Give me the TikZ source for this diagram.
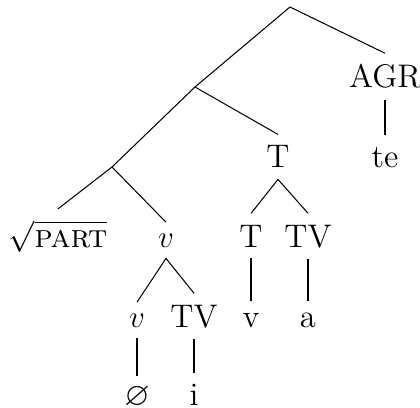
\documentclass[tikz,border=0pt]{standalone}
\usepackage{amssymb}
\usepackage{fontspec}
\begin{document}
\begin{tikzpicture}[>=latex,line join=bevel,lbl/.style={draw=none,anchor=base,inner ysep=4.2pt,font=\fontsize{12.6pt}{15pt}\selectfont}]
%%
\useasboundingbox (0bp,0bp) rectangle (161.28bp,156.67bp);
\coordinate (node_0) at (111.36bp,153.98bp);
  \coordinate (node_1) at (74.88bp,123.26bp);
  \coordinate (node_2) at (43.01bp,92.54bp);
  \node (node_3) at (147.84bp,122.88bp) [lbl] {AGR};
  \node (node_4) at (147.84bp,92.54bp) [lbl] {te};
  \node (node_5) at (106.75bp,92.16bp) [lbl] {T};
  \node (node_6) at (22.27bp,61.82bp) [lbl] {$\sqrt{\textsc{part}}$};
  \node (node_7) at (63.74bp,61.82bp) [lbl] {$v$};
  \node (node_8) at (96.38bp,61.82bp) [lbl] {T};
  \node (node_9) at (118.27bp,61.82bp) [lbl] {TV};
  \node (node_10) at (52.61bp,31.10bp) [lbl] {$v$};
  \node (node_11) at (74.50bp,31.10bp) [lbl] {TV};
  \node (node_12) at (96.38bp,31.10bp) [lbl] {v};
  \node (node_13) at (118.27bp,31.10bp) [lbl] {a};
  \node (node_14) at (52.61bp,0.77bp) [lbl] {$\varnothing$};
  \node (node_15) at (74.50bp,0.77bp) [lbl] {i};
  \draw [black] (node_0) -- (node_1);
  \draw [black] (node_0) -- (node_3.north);
  \draw [black] (node_1) -- (node_2);
  \draw [black] (node_1) -- (node_5.north);
  \draw [black] (node_2) -- (node_6.north);
  \draw [black] (node_2) -- (node_7.north);
  \draw [black] (node_3.south) -- (node_4.north);
  \draw [black] (node_5.south) -- (node_8.north);
  \draw [black] (node_5.south) -- (node_9.north);
  \draw [black] (node_7.south) -- (node_10.north);
  \draw [black] (node_7.south) -- (node_11.north);
  \draw [black] (node_8.south) -- (node_12.north);
  \draw [black] (node_9.south) -- (node_13.north);
  \draw [black] (node_10.south) -- (node_14.north);
  \draw [black] (node_11.south) -- (node_15.north);
%
\end{tikzpicture}
\end{document}
